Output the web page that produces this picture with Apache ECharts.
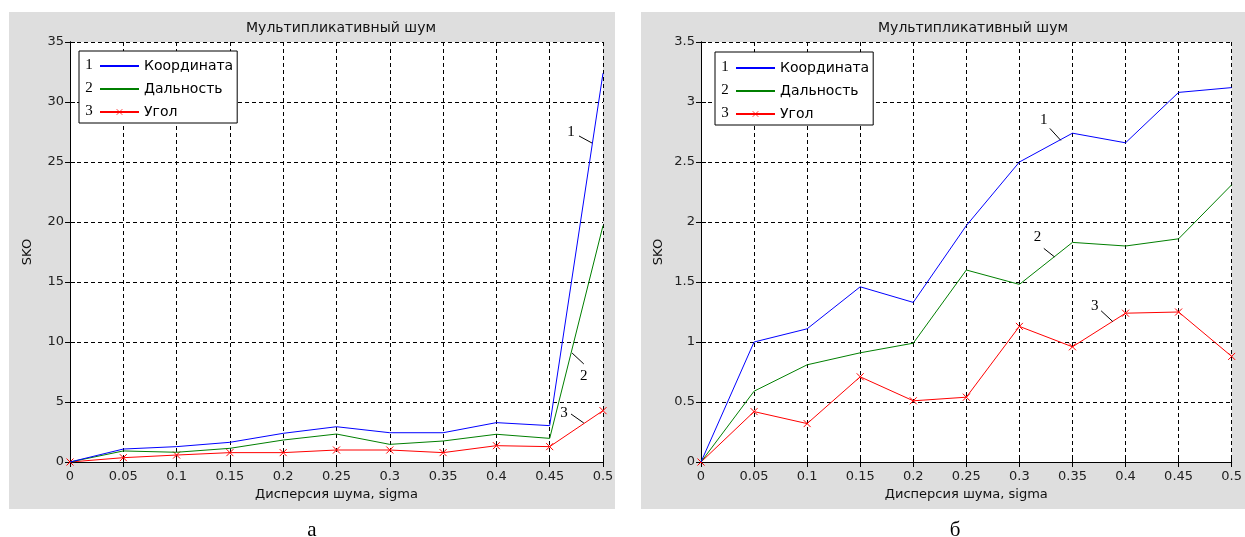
<!DOCTYPE html>
<html>
<head>
<meta charset="utf-8">
<script src="https://cdn.jsdelivr.net/npm/echarts@6/dist/echarts.min.js"></script>
<style>
  html, body { margin: 0; padding: 0; background: #fff; }
  #main { width: 1245px; height: 537px; }
</style>
</head>
<body>
<div id="main"></div>
<script>
// noise dispersion (x axis)
var sigma = [0, 0.05, 0.1, 0.15, 0.2, 0.25, 0.3, 0.35, 0.4, 0.45, 0.5];

// plot "а"
var coordA = [0, 1.08, 1.28, 1.64, 2.39, 2.94, 2.44, 2.44, 3.28, 3.03, 32.4];
var rangeA = [0, 0.92, 0.81, 1.14, 1.83, 2.33, 1.47, 1.75, 2.31, 1.97, 19.7];
var angleA = [0, 0.36, 0.58, 0.78, 0.78, 1.0, 1.0, 0.78, 1.36, 1.28, 4.28];

// plot "б"
var coordB = [0, 1.0, 1.11, 1.46, 1.33, 1.97, 2.5, 2.74, 2.66, 3.08, 3.12];
var rangeB = [0, 0.59, 0.81, 0.91, 0.99, 1.6, 1.48, 1.83, 1.80, 1.86, 2.31];
var angleB = [0, 0.42, 0.32, 0.71, 0.51, 0.54, 1.13, 0.96, 1.24, 1.25, 0.88];

var names = ['Координата', 'Дальность', 'Угол'];
var colors = ['#0000ff', '#007f00', '#ff0000'];
var title = 'Мультипликативный шум';
var xName = 'Дисперсия шума, sigma';
var yName = 'SKO';

// numbered callouts: [grid, label, textX, textY, fromX, fromY, toX, toY] in data units
var callouts = [
  [0, '1', 0.470, 27.5, 0.4775, 27.17, 0.4897, 26.58],
  [0, '2', 0.482, 7.17, 0.471, 9.08, 0.482, 8.17],
  [0, '3', 0.4634, 4.08, 0.470, 4.0, 0.482, 3.25],
  [1, '1', 0.323, 2.85, 0.3287, 2.78, 0.339, 2.68],
  [1, '2', 0.317, 1.875, 0.323, 1.78, 0.333, 1.71],
  [1, '3', 0.371, 1.30, 0.377, 1.26, 0.388, 1.17]
];

var FONT = 'DejaVu Sans';
var SERIF = 'Liberation Serif';

function pairs(ys) {
  return sigma.map(function (x, i) { return [x, ys[i]]; });
}

function xAxes(g) {
  return [{
    gridIndex: g, type: 'value', min: 0, max: 0.5, interval: 0.05,
    name: xName, nameLocation: 'middle', nameGap: 26,
    nameTextStyle: { fontFamily: FONT, fontSize: 13, color: '#111' },
    axisLine: { lineStyle: { color: '#000', width: 1 } },
    axisTick: { inside: true, length: 5, lineStyle: { color: '#000' } },
    axisLabel: { fontFamily: FONT, fontSize: 13, color: '#222', margin: 8 },
    splitLine: { show: true, lineStyle: { color: '#000', type: [4, 3], width: 1 } }
  }, {
    gridIndex: g, type: 'value', position: 'top', min: 0, max: 0.5, interval: 0.05,
    axisLine: { lineStyle: { color: '#000', width: 1 } },
    axisTick: { inside: true, length: 5, lineStyle: { color: '#000' } },
    axisLabel: { show: false }, splitLine: { show: false }
  }];
}

function yAxes(g, max, interval) {
  return [{
    gridIndex: g, type: 'value', min: 0, max: max, interval: interval,
    name: yName, nameLocation: 'middle', nameGap: 36,
    nameTextStyle: { fontFamily: FONT, fontSize: 13, color: '#111' },
    axisLine: { show: true, lineStyle: { color: '#000', width: 1 } },
    axisTick: { show: true, inside: true, length: 5, lineStyle: { color: '#000' } },
    axisLabel: { fontFamily: FONT, fontSize: 13, color: '#222', margin: 6 },
    splitLine: { show: true, lineStyle: { color: '#000', type: [4, 3], width: 1 } }
  }, {
    gridIndex: g, type: 'value', position: 'right', min: 0, max: max, interval: interval,
    axisLine: { show: true, lineStyle: { color: '#000', width: 1 } },
    axisTick: { show: true, inside: true, length: 5, lineStyle: { color: '#000' } },
    axisLabel: { show: false }, splitLine: { show: false }
  }];
}

function lines(g, sets) {
  return sets.map(function (ys, i) {
    var s = {
      name: names[i], type: 'line', xAxisIndex: g * 2, yAxisIndex: g * 2,
      data: pairs(ys), animation: false, z: 3 - i,
      lineStyle: { color: colors[i], width: 1 },
      // transparent item colour keeps the legend icon a bare line
      itemStyle: { color: 'transparent' },
      symbol: 'none'
    };
    if (i === 2) {
      s.symbol = 'path://M0,0L10,10M10,0L0,10';
      s.symbolSize = 7;
      s.showAllSymbol = true;
      s.itemStyle = { color: 'none', borderColor: colors[i], borderWidth: 1 };
    }
    return s;
  });
}

function legend(left, top, padTop) {
  return {
    data: names, orient: 'vertical', left: left, top: top,
    padding: [padTop, 4, 4, 20], itemWidth: 39, itemHeight: 7, itemGap: 9,
    backgroundColor: '#fff', borderColor: '#000', borderWidth: 1, borderRadius: 0,
    selectedMode: false,
    itemStyle: { borderWidth: 0.8 },
    textStyle: { fontFamily: FONT, fontSize: 14, color: '#000', lineHeight: 14, padding: [0, 0, 0, 0] }
  };
}

var myChart = echarts.init(document.getElementById('main'));

var graphics = [
  { id: 'bgA', type: 'rect', z: -10, shape: { x: 9, y: 12, width: 606, height: 497 }, style: { fill: '#dedede' } },
  { id: 'bgB', type: 'rect', z: -10, shape: { x: 641, y: 12, width: 604, height: 497 }, style: { fill: '#dedede' } },
  { id: 'capA', type: 'text', x: 312, y: 530, style: { text: 'а', font: '21px "' + SERIF + '"', fill: '#000', align: 'center', verticalAlign: 'middle' } },
  { id: 'capB', type: 'text', x: 955, y: 530, style: { text: 'б', font: '21px "' + SERIF + '"', fill: '#000', align: 'center', verticalAlign: 'middle' } }
];
// legend numbers
[[89, [65, 88, 111]], [725, [67, 90, 113]]].forEach(function (L, k) {
  L[1].forEach(function (y, i) {
    graphics.push({ id: 'num' + k + i, type: 'text', z: 100, x: L[0], y: y,
      style: { text: String(i + 1), font: '15px "' + SERIF + '"', fill: '#000', align: 'center', verticalAlign: 'middle' } });
  });
});

var option = {
  backgroundColor: '#fff',
  animation: false,
  title: [
    { text: title, left: 336, top: 16, textAlign: 'center', textStyle: { fontFamily: FONT, fontSize: 14, fontWeight: 'normal', color: '#111' } },
    { text: title, left: 968, top: 16, textAlign: 'center', textStyle: { fontFamily: FONT, fontSize: 14, fontWeight: 'normal', color: '#111' } }
  ],
  legend: [legend(79, 51, 8), legend(715, 52, 9)],
  grid: [
    { left: 70, top: 42, width: 533, height: 420, show: true, backgroundColor: '#fff', borderWidth: 0 },
    { left: 701, top: 42, width: 534, height: 420, show: true, backgroundColor: '#fff', borderWidth: 0 }
  ],
  xAxis: xAxes(0).concat(xAxes(1)),
  yAxis: yAxes(0, 35, 5).concat(yAxes(1, 3.5, 0.5)),
  series: lines(0, [coordA, rangeA, angleA]).concat(lines(1, [coordB, rangeB, angleB])),
  graphic: graphics
};
myChart.setOption(option);

// callout numbers with leader lines, placed through the axes
var extra = [];
callouts.forEach(function (c, i) {
  var t = myChart.convertToPixel({ gridIndex: c[0] }, [c[2], c[3]]);
  var a = myChart.convertToPixel({ gridIndex: c[0] }, [c[4], c[5]]);
  var b = myChart.convertToPixel({ gridIndex: c[0] }, [c[6], c[7]]);
  extra.push({ id: 'ct' + i, type: 'text', z: 100, x: t[0], y: t[1],
    style: { text: c[1], font: '15px "' + SERIF + '"', fill: '#000', align: 'center', verticalAlign: 'middle' } });
  extra.push({ id: 'cl' + i, type: 'line', z: 100,
    shape: { x1: a[0], y1: a[1], x2: b[0], y2: b[1] }, style: { stroke: '#000', lineWidth: 1 } });
});
myChart.setOption({ graphic: extra });
</script>
</body>
</html>
